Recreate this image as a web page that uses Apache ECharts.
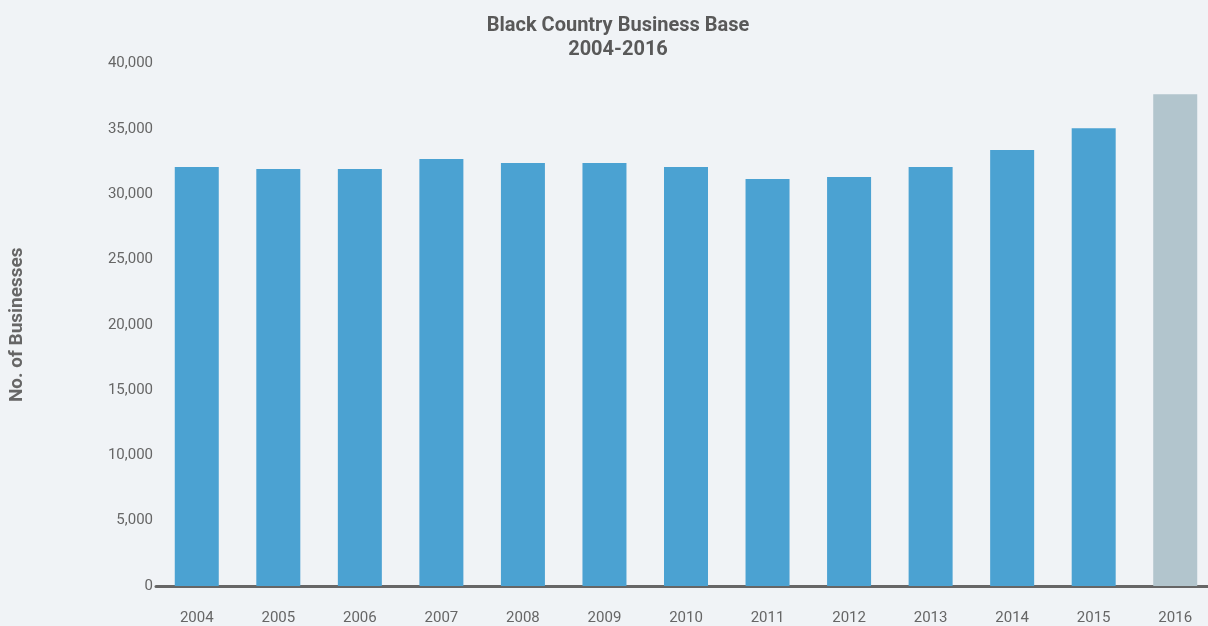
<!DOCTYPE html>
<html>
<head>
<meta charset="utf-8">
<style>
  html, body { margin: 0; padding: 0; background: #f0f3f6; overflow: hidden; }
  #chart { width: 1216px; height: 626px; }
</style>
<script src="https://cdn.jsdelivr.net/npm/echarts@6/dist/echarts.min.js"></script>
</head>
<body>
<div id="chart"></div>
<script>
// Business counts in the Black Country, by year
const years = ['2004', '2005', '2006', '2007', '2008', '2009', '2010',
               '2011', '2012', '2013', '2014', '2015', '2016'];
const businesses = [32070, 31920, 31920, 32680, 32380, 32380, 32070,
                    31150, 31310, 32070, 33370, 35050, 37650];
const yTicks = [0, 5000, 10000, 15000, 20000, 25000, 30000, 35000, 40000];

const barBlue = '#4ba2d2';
const barLatest = '#b2c5cd';
const textGrey = '#666666';
const fontFamily = 'Roboto, "Noto Sans", sans-serif';

const chart = echarts.init(document.getElementById('chart'), null, { renderer: 'canvas' });

chart.setOption({
  backgroundColor: '#f0f3f6',
  animation: false,
  title: {
    text: 'Black Country Business Base\n2004-2016',
    left: 613,
    textAlign: 'center',
    top: 9,
    textStyle: {
      fontFamily: fontFamily,
      fontWeight: 'bold',
      fontSize: 20,
      lineHeight: 24,
      color: '#595959'
    }
  },
  grid: {
    left: 155,
    top: 63.5,
    bottom: 39.5,
    right: 0,
    containLabel: false
  },
  xAxis: {
    type: 'category',
    data: years,
    axisLine: { lineStyle: { color: '#666666', width: 3 } },
    axisTick: { show: false },
    axisLabel: {
      color: textGrey,
      fontFamily: fontFamily,
      fontSize: 15,
      margin: 25
    }
  },
  yAxis: {
    type: 'value',
    min: yTicks[0],
    max: yTicks[yTicks.length - 1],
    interval: yTicks[1] - yTicks[0],
    name: 'No. of Businesses',
    nameLocation: 'middle',
    nameGap: 129,
    nameRotate: 90,
    nameTextStyle: {
      color: textGrey,
      fontFamily: fontFamily,
      fontWeight: 'bold',
      fontSize: 19
    },
    axisLine: { show: false },
    axisTick: { show: false },
    splitLine: { show: false },
    axisLabel: {
      color: textGrey,
      fontFamily: fontFamily,
      fontSize: 15,
      margin: 3,
      formatter: v => v.toLocaleString('en-GB')
    }
  },
  series: [{
    type: 'bar',
    data: businesses.map((v, i) => ({
      value: v,
      itemStyle: { color: i === businesses.length - 1 ? barLatest : barBlue }
    })),
    barWidth: 44
  }]
});
</script>
</body>
</html>
